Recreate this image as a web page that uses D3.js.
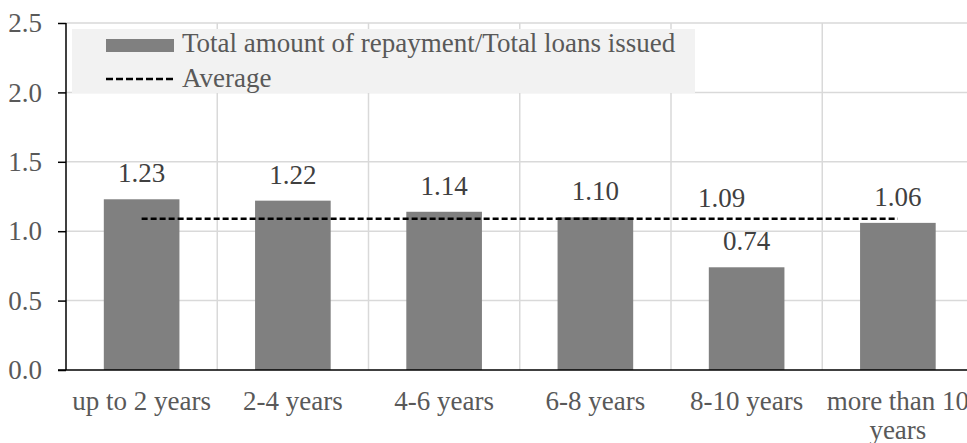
<!DOCTYPE html>
<html>
<head>
<meta charset="utf-8">
<script src="https://cdn.jsdelivr.net/npm/d3@7"></script>
<style>
  html, body { margin: 0; padding: 0; background: #fff; overflow: hidden; }
  svg { display: block; }
  svg text { font-family: "Liberation Serif", "Times New Roman", serif; font-size: 27px; }
</style>
</head>
<body>
<svg id="chart" width="967" height="443"></svg>
<script>
// Repayment ratio by loan term
const categories = [["up to 2 years"], ["2-4 years"], ["4-6 years"], ["6-8 years"], ["8-10 years"], ["more than 10", "years"]];
const ratios = [1.23, 1.22, 1.14, 1.10, 0.74, 1.06];
const averageValue = 1.09;
const averageLabelIndex = 4;
const yTicks = [0, 0.5, 1.0, 1.5, 2.0, 2.5];
const seriesNames = ["Total amount of repayment/Total loans issued", "Average"];

const svg = d3.select("#chart");
const plotLeft = 66, plotRight = 973.5, plotTop = 23, plotBottom = 370;

const x = d3.scaleBand().domain(d3.range(categories.length)).range([plotLeft, plotRight]).paddingInner(0).paddingOuter(0);
const y = d3.scaleLinear().domain([0, 2.5]).range([plotBottom, plotTop]);

const grid = "#d9d9d9", textColor = "#595959", barColor = "#808080";

// horizontal gridlines
svg.append("g").selectAll("line").data(yTicks.filter(d => d > 0)).join("line")
  .attr("x1", plotLeft).attr("x2", plotRight)
  .attr("y1", d => y(d)).attr("y2", d => y(d))
  .attr("stroke", grid).attr("stroke-width", 1.5);

// vertical gridlines at category boundaries
svg.append("g").selectAll("line").data(d3.range(1, categories.length + 1)).join("line")
  .attr("x1", i => x(i - 1) + x.bandwidth()).attr("x2", i => x(i - 1) + x.bandwidth())
  .attr("y1", plotTop).attr("y2", plotBottom)
  .attr("stroke", grid).attr("stroke-width", 1.5);

// y axis
const yAxis = d3.axisLeft(y).tickValues(yTicks).tickFormat(d3.format(".1f")).tickSize(8).tickPadding(16);
const ya = svg.append("g").attr("transform", `translate(${plotLeft},0)`).call(yAxis);
ya.attr("font-family", null).attr("font-size", null);
ya.select(".domain").attr("stroke", "#000").attr("stroke-width", 1.5).attr("d", `M0,${plotTop}V${plotBottom}`);
ya.selectAll(".tick line").attr("stroke", "#000").attr("stroke-width", 1.5);
ya.selectAll(".tick text").attr("fill", textColor);

// bars
const barW = x.bandwidth() * 0.5;
svg.append("g").selectAll("rect").data(ratios).join("rect")
  .attr("x", (d, i) => x(i) + (x.bandwidth() - barW) / 2)
  .attr("y", d => y(d))
  .attr("width", barW)
  .attr("height", d => y(0) - y(d))
  .attr("fill", barColor);

// x baseline
svg.append("line").attr("x1", plotLeft - 8).attr("x2", plotRight)
  .attr("y1", y(0)).attr("y2", y(0)).attr("stroke", "#000").attr("stroke-width", 1.5);

// category labels
const xl = svg.append("g").selectAll("text").data(categories).join("text")
  .attr("x", (d, i) => x(i) + x.bandwidth() / 2)
  .attr("y", 410)
  .attr("text-anchor", "middle")
  .attr("fill", textColor);
xl.selectAll("tspan").data(d => d).join("tspan")
  .attr("x", function() { return d3.select(this.parentNode).attr("x"); })
  .attr("dy", (d, j) => j === 0 ? 0 : 29)
  .text(d => d);

// bar value labels
svg.append("g").selectAll("text").data(ratios).join("text")
  .attr("x", (d, i) => x(i) + x.bandwidth() / 2)
  .attr("y", d => y(d) - 17)
  .attr("text-anchor", "middle")
  .attr("fill", "#404040")
  .text(d => d.toFixed(2));

// average line from first to last category centre
const avgPts = [0, categories.length - 1].map(i => [x(i) + x.bandwidth() / 2, y(averageValue)]);
svg.append("path").attr("d", d3.line()(avgPts))
  .attr("stroke", "#000").attr("stroke-width", 2.5).attr("stroke-dasharray", "6,3").attr("fill", "none");

svg.append("text")
  .attr("x", x(averageLabelIndex) + x.bandwidth() / 2 - 25)
  .attr("y", y(averageValue) - 12)
  .attr("text-anchor", "middle")
  .attr("fill", "#404040")
  .text(averageValue.toFixed(2));

// legend
const lg = svg.append("g");
lg.append("rect").attr("x", 72).attr("y", 29).attr("width", 623).attr("height", 64).attr("fill", "#f2f2f2");
lg.append("rect").attr("x", 106).attr("y", 39).attr("width", 68).attr("height", 13).attr("fill", barColor);
lg.append("line").attr("x1", 106).attr("x2", 174).attr("y1", 79).attr("y2", 79)
  .attr("stroke", "#000").attr("stroke-width", 2.5).attr("stroke-dasharray", "7,3");
lg.selectAll("text").data(seriesNames).join("text")
  .attr("x", 182).attr("y", (d, i) => 52 + i * 35)
  .attr("fill", textColor)
  .text(d => d);
</script>
</body>
</html>
